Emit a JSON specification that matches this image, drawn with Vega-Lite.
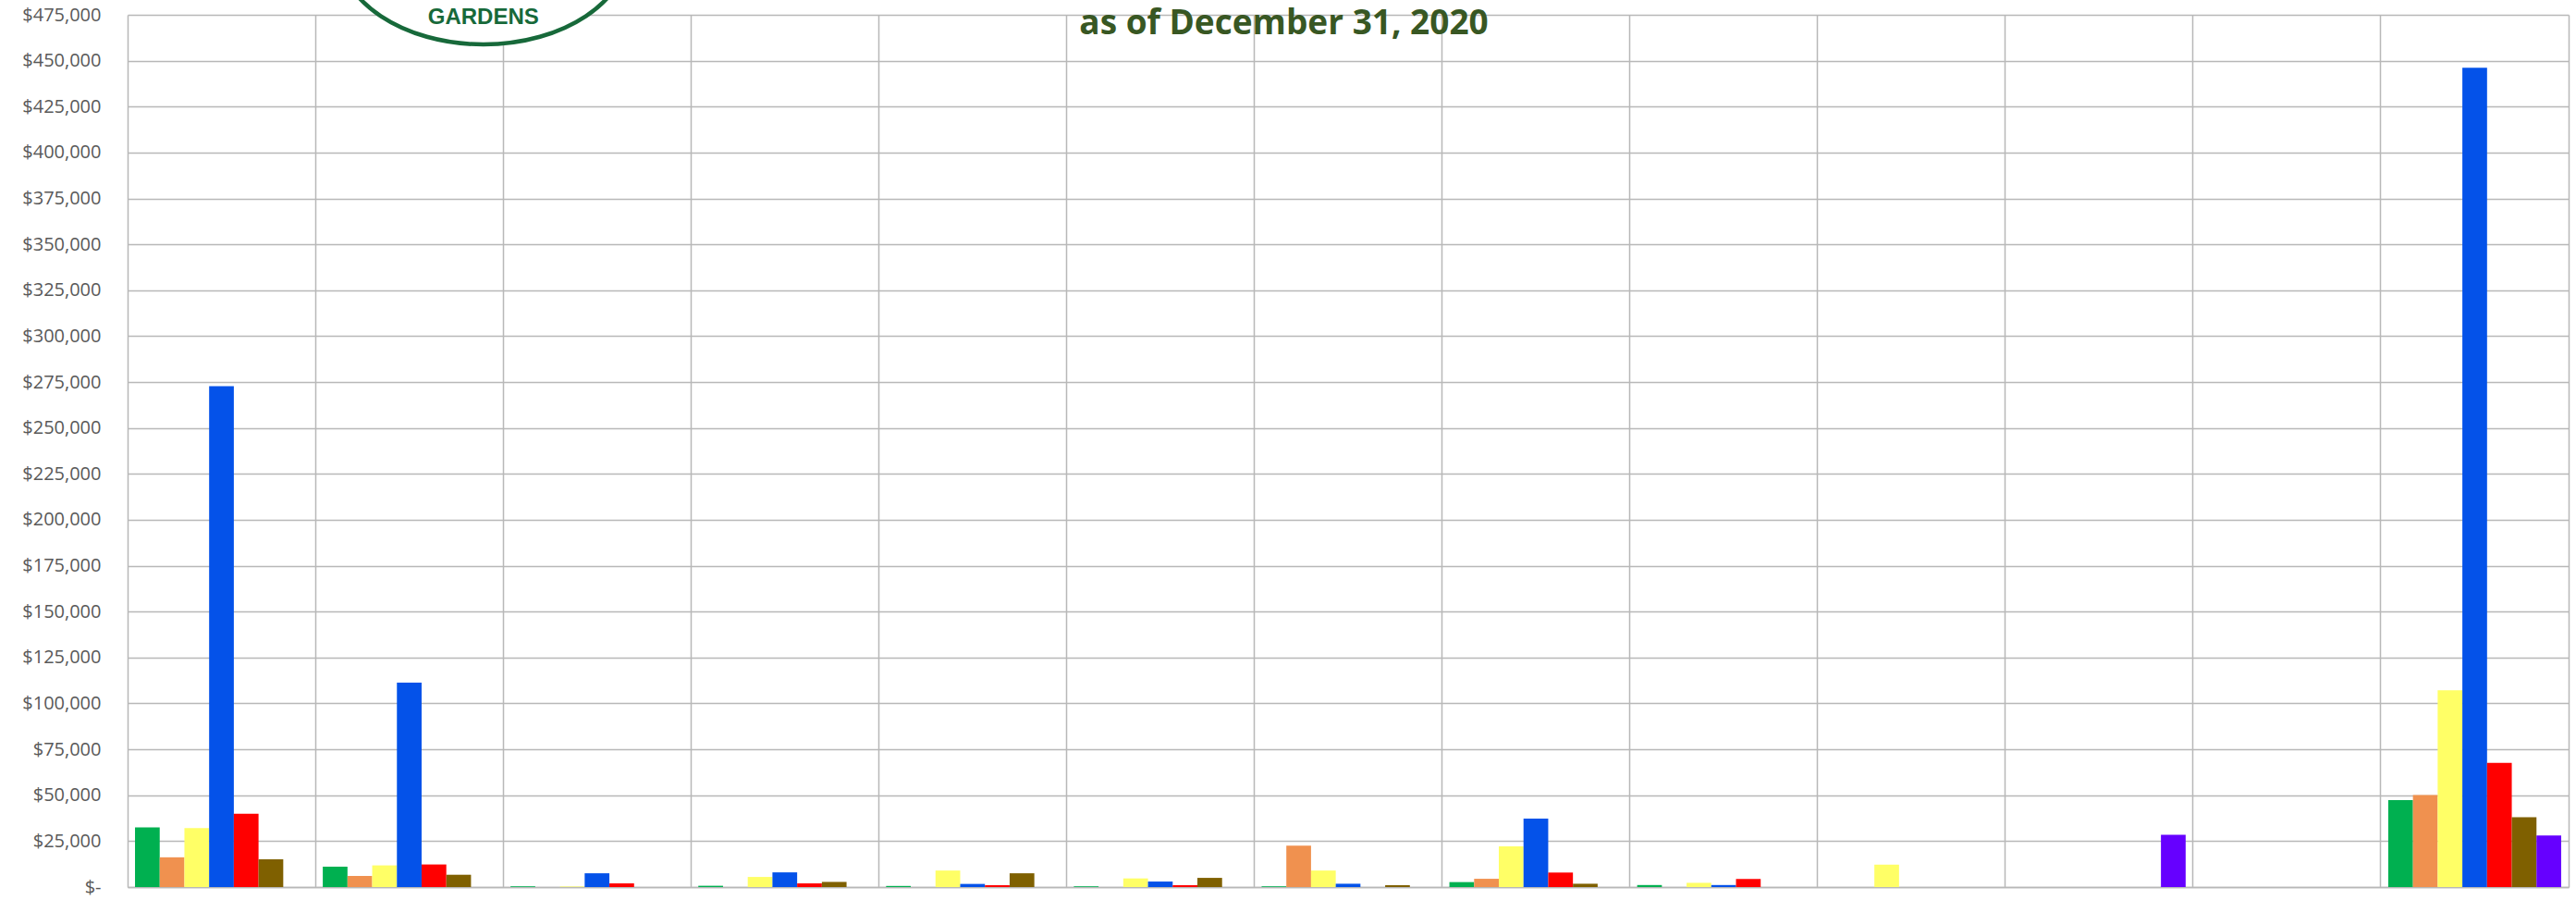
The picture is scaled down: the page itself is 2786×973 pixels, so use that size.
{
  "$schema": "https://vega.github.io/schema/vega-lite/v6.json",
  "width": 2640,
  "height": 943,
  "autosize": {"type": "none"},
  "padding": {"left": 138, "top": 16, "right": 8, "bottom": 14},
  "background": "white",
  "config": {"view": {"stroke": null}},
  "datasets": {
    "amounts": [
      {"category": "C01", "series": "Series 1", "amount": 32500},
      {"category": "C01", "series": "Series 2", "amount": 16200},
      {"category": "C01", "series": "Series 3", "amount": 32100},
      {"category": "C01", "series": "Series 4", "amount": 272700},
      {"category": "C01", "series": "Series 5", "amount": 39900},
      {"category": "C01", "series": "Series 6", "amount": 15100},
      {"category": "C02", "series": "Series 1", "amount": 11100},
      {"category": "C02", "series": "Series 2", "amount": 6100},
      {"category": "C02", "series": "Series 3", "amount": 11800},
      {"category": "C02", "series": "Series 4", "amount": 111300},
      {"category": "C02", "series": "Series 5", "amount": 12300},
      {"category": "C02", "series": "Series 6", "amount": 6700},
      {"category": "C03", "series": "Series 1", "amount": 400},
      {"category": "C03", "series": "Series 3", "amount": 300},
      {"category": "C03", "series": "Series 4", "amount": 7500},
      {"category": "C03", "series": "Series 5", "amount": 2000},
      {"category": "C04", "series": "Series 1", "amount": 700},
      {"category": "C04", "series": "Series 3", "amount": 5500},
      {"category": "C04", "series": "Series 4", "amount": 8000},
      {"category": "C04", "series": "Series 5", "amount": 2000},
      {"category": "C04", "series": "Series 6", "amount": 2800},
      {"category": "C05", "series": "Series 1", "amount": 600},
      {"category": "C05", "series": "Series 3", "amount": 9000},
      {"category": "C05", "series": "Series 4", "amount": 1700},
      {"category": "C05", "series": "Series 5", "amount": 1000},
      {"category": "C05", "series": "Series 6", "amount": 7500},
      {"category": "C06", "series": "Series 1", "amount": 400},
      {"category": "C06", "series": "Series 3", "amount": 4700},
      {"category": "C06", "series": "Series 4", "amount": 3000},
      {"category": "C06", "series": "Series 5", "amount": 1000},
      {"category": "C06", "series": "Series 6", "amount": 5000},
      {"category": "C07", "series": "Series 1", "amount": 400},
      {"category": "C07", "series": "Series 2", "amount": 22500},
      {"category": "C07", "series": "Series 3", "amount": 9000},
      {"category": "C07", "series": "Series 4", "amount": 1800},
      {"category": "C07", "series": "Series 6", "amount": 1000},
      {"category": "C08", "series": "Series 1", "amount": 2700},
      {"category": "C08", "series": "Series 2", "amount": 4500},
      {"category": "C08", "series": "Series 3", "amount": 22200},
      {"category": "C08", "series": "Series 4", "amount": 37300},
      {"category": "C08", "series": "Series 5", "amount": 7900},
      {"category": "C08", "series": "Series 6", "amount": 1800},
      {"category": "C09", "series": "Series 1", "amount": 1100},
      {"category": "C09", "series": "Series 3", "amount": 2300},
      {"category": "C09", "series": "Series 4", "amount": 1100},
      {"category": "C09", "series": "Series 5", "amount": 4400},
      {"category": "C10", "series": "Series 3", "amount": 12200},
      {"category": "C11", "series": "Series 7", "amount": 28500},
      {"category": "Total", "series": "Series 1", "amount": 47400},
      {"category": "Total", "series": "Series 2", "amount": 50100},
      {"category": "Total", "series": "Series 3", "amount": 107200},
      {"category": "Total", "series": "Series 4", "amount": 446100},
      {"category": "Total", "series": "Series 5", "amount": 67600},
      {"category": "Total", "series": "Series 6", "amount": 38000},
      {"category": "Total", "series": "Series 7", "amount": 28100}
    ]
  },
  "layer": [
    {
      "data": {"name": "amounts"},
      "mark": {"type": "bar"},
      "encoding": {
        "x": {
          "field": "category",
          "type": "nominal",
          "scale": {
            "domain": ["C01", "C02", "C03", "C04", "C05", "C06", "C07", "C08", "C09", "C10", "C11", "C12", "Total"],
            "paddingInner": 0,
            "paddingOuter": 0
          },
          "axis": {
            "title": null,
            "labels": false,
            "ticks": false,
            "domain": true,
            "domainColor": "#b8b8b8",
            "domainWidth": 1.5,
            "grid": true,
            "gridColor": "#b8b8b8",
            "gridWidth": 1.5,
            "bandPosition": 0
          }
        },
        "xOffset": {
          "field": "series",
          "type": "nominal",
          "scale": {
            "domain": ["Series 1", "Series 2", "Series 3", "Series 4", "Series 5", "Series 6", "Series 7"],
            "paddingInner": 0,
            "paddingOuter": 0.3
          }
        },
        "y": {
          "field": "amount",
          "type": "quantitative",
          "scale": {"domain": [0, 475000], "nice": false, "zero": true},
          "axis": {
            "orient": "left",
            "title": null,
            "values": [0, 25000, 50000, 75000, 100000, 125000, 150000, 175000, 200000, 225000, 250000, 275000, 300000, 325000, 350000, 375000, 400000, 425000, 450000, 475000],
            "labelExpr": "datum.value === 0 ? '$-' : '$' + format(datum.value, ',')",
            "labelFont": "Open Sans",
            "labelFontSize": 20,
            "labelColor": "#595959",
            "labelPadding": 29,
            "ticks": false,
            "domain": false,
            "grid": true,
            "gridColor": "#b8b8b8",
            "gridWidth": 1.5
          }
        },
        "color": {
          "field": "series",
          "type": "nominal",
          "scale": {
            "domain": ["Series 1", "Series 2", "Series 3", "Series 4", "Series 5", "Series 6", "Series 7"],
            "range": ["#00B050", "#F0914F", "#FFFF66", "#0452E9", "#FF0000", "#7F6000", "#6600FF"]
          },
          "legend": null
        }
      }
    },
    {
      "data": {"values": [{}]},
      "mark": {
        "type": "point",
        "shape": "M -1.5 0 A 1.5 1 0 1 1 1.5 0 A 1.5 1 0 1 1 -1.5 0 Z",
        "size": 43850,
        "filled": true,
        "fill": "white",
        "stroke": "#17693a",
        "strokeWidth": 4.5,
        "opacity": 1,
        "clip": false
      },
      "encoding": {
        "x": {"datum": "C02"},
        "xOffset": {"datum": "Series 7"},
        "y": {
          "datum": 511620,
          "type": "quantitative",
          "axis": {
            "orient": "right",
            "title": null,
            "labels": false,
            "ticks": false,
            "grid": false,
            "domain": true,
            "domainColor": "#b8b8b8",
            "domainWidth": 1.5
          }
        }
      }
    },
    {
      "data": {"values": [{}]},
      "mark": {
        "type": "text",
        "text": "GARDENS",
        "font": "Liberation Sans",
        "fontWeight": "bold",
        "fontSize": 24,
        "color": "#17693a",
        "align": "center",
        "baseline": "alphabetic",
        "clip": false
      },
      "encoding": {
        "x": {"datum": "C02"},
        "xOffset": {"datum": "Series 7"},
        "y": {"datum": 470000, "type": "quantitative", "axis": null}
      }
    },
    {
      "data": {"values": [{}]},
      "mark": {
        "type": "text",
        "text": "as of December 31, 2020",
        "font": "Open Sans",
        "fontWeight": "bold",
        "fontSize": 37,
        "color": "#385723",
        "align": "center",
        "baseline": "alphabetic",
        "dx": -69.5,
        "clip": false
      },
      "encoding": {
        "x": {"datum": "C07"},
        "y": {"datum": 464270, "type": "quantitative", "axis": null}
      }
    }
  ],
  "resolve": {"axis": {"y": "independent"}}
}
